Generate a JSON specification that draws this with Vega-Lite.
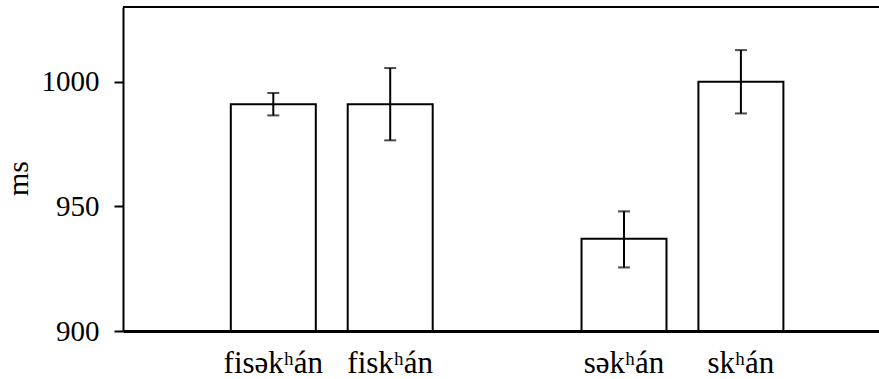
{
  "$schema": "https://vega.github.io/schema/vega-lite/v6.json",
  "autosize": {"type": "none"},
  "padding": {"left": 123, "top": 7, "right": 0, "bottom": 48},
  "width": 756,
  "height": 324,
  "background": "white",
  "config": {
    "view": {"stroke": null},
    "font": "Liberation Serif"
  },
  "data": {
    "values": [
      {"word": "fisəkʰán", "ms": 991, "lo": 986.5, "hi": 995.5},
      {"word": "fiskʰán", "ms": 991, "lo": 976.5, "hi": 1005.5},
      {"word": "səkʰán", "ms": 937, "lo": 925.5, "hi": 948},
      {"word": "skʰán", "ms": 1000, "lo": 987.3, "hi": 1012.7}
    ]
  },
  "layer": [
    {
      "mark": {"type": "bar", "fill": "white", "stroke": "black", "strokeWidth": 2},
      "encoding": {
        "x": {
          "field": "word", "type": "nominal", "sort": null,
          "scale": {"domain": ["fisəkʰán", "fiskʰán", " ", "səkʰán", "skʰán"], "paddingInner": 0.273, "paddingOuter": 0.87, "align": 0.53},
          "axis": {"title": null, "domain": true, "domainColor": "black", "domainWidth": 3, "ticks": false, "tickSize": 0, "labelAngle": 0, "labelFont": "Liberation Serif", "labelFontSize": 31, "labelColor": "black", "labelBaseline": "alphabetic", "labelPadding": 41}
        },
        "y": {
          "field": "ms", "type": "quantitative",
          "scale": {"domain": [900, 1030], "nice": false, "zero": false},
          "axis": {"values": [900, 950, 1000], "format": "d", "grid": false, "domainColor": "black", "domainWidth": 2, "tickColor": "black", "tickWidth": 2, "tickSize": 9, "labelFont": "Liberation Serif", "labelFontSize": 29, "labelColor": "black", "labelPadding": 15, "title": "ms", "titleFont": "Liberation Serif", "titleFontSize": 30, "titleFontWeight": "normal", "titleColor": "black", "titleX": -96, "titleY": 171, "titleAlign": "center", "titleBaseline": "alphabetic", "titleAngle": -90}
        },
        "y2": {"datum": 900}
      }
    },
    {
      "mark": {"type": "rule", "stroke": "black", "strokeWidth": 2},
      "encoding": {
        "x": {"field": "word", "type": "nominal", "sort": null},
        "y": {"field": "lo", "type": "quantitative"},
        "y2": {"field": "hi"}
      }
    },
    {
      "mark": {"type": "tick", "color": "black", "thickness": 2, "size": 12, "orient": "horizontal"},
      "encoding": {
        "x": {"field": "word", "type": "nominal", "sort": null},
        "y": {"field": "lo", "type": "quantitative"}
      }
    },
    {
      "mark": {"type": "tick", "color": "black", "thickness": 2, "size": 12, "orient": "horizontal"},
      "encoding": {
        "x": {"field": "word", "type": "nominal", "sort": null},
        "y": {"field": "hi", "type": "quantitative"}
      }
    },
    {
      "mark": {"type": "rule", "stroke": "black", "strokeWidth": 2},
      "encoding": {"y": {"datum": 1030}}
    }
  ]
}
